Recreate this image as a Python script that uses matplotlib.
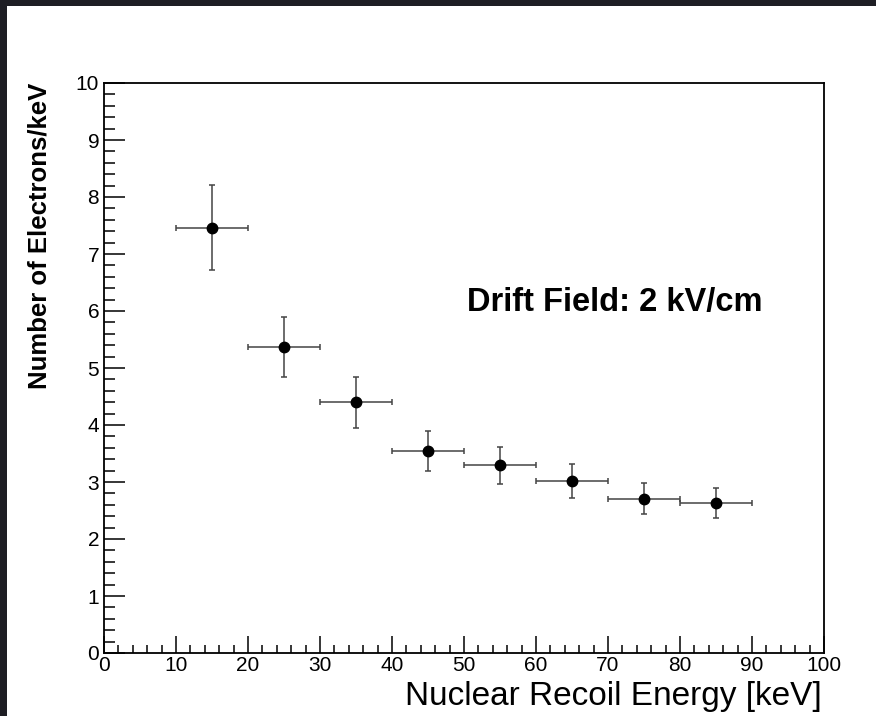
import matplotlib
matplotlib.use("Agg")
import matplotlib.pyplot as plt
from matplotlib.patches import Rectangle
from matplotlib.ticker import MultipleLocator

plt.rcParams['font.family'] = ['Liberation Sans', 'DejaVu Sans']

# data
energy = [15, 25, 35, 45, 55, 65, 75, 85]
energy_err = [5, 5, 5, 5, 5, 5, 5, 5]
electrons = [7.46, 5.37, 4.40, 3.54, 3.29, 3.02, 2.71, 2.63]
electrons_err = [0.745, 0.53, 0.45, 0.35, 0.325, 0.30, 0.28, 0.26]

W, H = 876, 716
fig = plt.figure(figsize=(W / 100, H / 100), dpi=100)
fig.patch.set_facecolor("#1e1e24")
fig.add_artist(Rectangle((7 / W, 0), 1 - 7 / W, 1 - 6 / H,
                         transform=fig.transFigure, facecolor="white",
                         edgecolor="none", zorder=0))

ax = fig.add_axes([104 / W, 1 - 653 / H, 720 / W, 570 / H])
ax.set_facecolor("white")

ax.errorbar(energy, electrons, xerr=energy_err, yerr=electrons_err,
            fmt="o", color="black", ms=7.5, ecolor="#444444", elinewidth=1.1,
            capsize=2.5, capthick=1.1)

ax.set_xlim(0, 100)
ax.set_ylim(0, 10)
ax.xaxis.set_major_locator(MultipleLocator(10))
ax.xaxis.set_minor_locator(MultipleLocator(2))
ax.yaxis.set_major_locator(MultipleLocator(1))
ax.yaxis.set_minor_locator(MultipleLocator(0.2))

ax.tick_params(axis="both", which="both", direction="in", top=False,
               right=False, color="black", labelsize=15)
ax.tick_params(axis="x", which="major", length=12, width=1.1, pad=2)
ax.tick_params(axis="x", which="minor", length=6, width=1.1)
ax.tick_params(axis="y", which="major", length=15, width=1.1, pad=3.5)
ax.tick_params(axis="y", which="minor", length=8, width=1.1)
for s in ax.spines.values():
    s.set_linewidth(1.3)

ax.text(50.4, 6.0, "Drift Field: 2 kV/cm", fontsize=23.5,
        fontweight="bold", ha="left", va="baseline")

fig.text(40 / W, 1 - 83 / H, "Number of Electrons/keV", rotation=90,
         fontsize=18.5, fontweight="bold", ha="center", va="top")
fig.text(822 / W, 1 - 705 / H, "Nuclear Recoil Energy [keV]",
         fontsize=24, ha="right", va="baseline")

fig.savefig("out.png", dpi=100, facecolor=fig.get_facecolor())
